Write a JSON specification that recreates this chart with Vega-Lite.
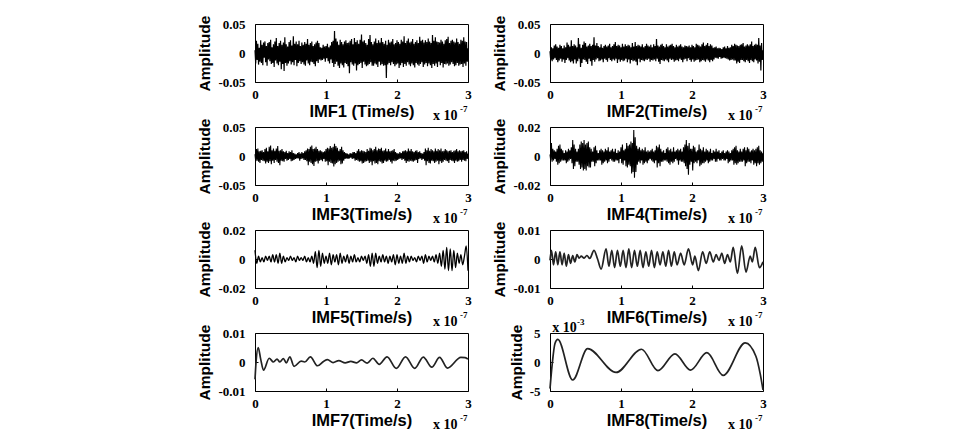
{
"$schema":"https://vega.github.io/schema/vega-lite/v6.json",
"background":"white",
"padding":{"left":197,"top":14,"right":5,"bottom":0},
"bounds":"flush",
"columns":2,
"spacing":{"row":45,"column":82},
"datasets":{
"imf1":[
{"t":0,"a":0.005},{"t":0.01,"a":-0.018},{"t":0.02,"a":0.021},{"t":0.03,"a":-0.012},{"t":0.04,"a":0.016},{"t":0.05,"a":-0.02},{"t":0.06,"a":0.009},{"t":0.07,"a":-0.015},{"t":0.08,"a":0.022},{"t":0.09,"a":-0.017},
{"t":0.1,"a":0.014},{"t":0.11,"a":-0.021},{"t":0.12,"a":0.018},{"t":0.13,"a":-0.008},{"t":0.14,"a":0.02},{"t":0.15,"a":-0.016},{"t":0.16,"a":0.012},{"t":0.17,"a":-0.022},{"t":0.18,"a":0.017},{"t":0.19,"a":-0.011},
{"t":0.2,"a":0.019},{"t":0.21,"a":-0.014},{"t":0.22,"a":0.023},{"t":0.23,"a":-0.019},{"t":0.24,"a":0.01},{"t":0.25,"a":-0.017},{"t":0.26,"a":0.015},{"t":0.27,"a":-0.024},{"t":0.28,"a":0.02},{"t":0.29,"a":-0.013},
{"t":0.3,"a":0.026},{"t":0.31,"a":-0.018},{"t":0.32,"a":0.012},{"t":0.33,"a":-0.021},{"t":0.34,"a":0.017},{"t":0.35,"a":-0.015},{"t":0.36,"a":0.021},{"t":0.37,"a":-0.028},{"t":0.38,"a":0.014},{"t":0.39,"a":-0.019},
{"t":0.4,"a":0.018},{"t":0.41,"a":-0.031},{"t":0.42,"a":0.027},{"t":0.43,"a":-0.017},{"t":0.44,"a":0.015},{"t":0.45,"a":-0.022},{"t":0.46,"a":0.011},{"t":0.47,"a":-0.018},{"t":0.48,"a":0.019},{"t":0.49,"a":-0.014},
{"t":0.5,"a":0.022},{"t":0.51,"a":-0.02},{"t":0.52,"a":0.013},{"t":0.53,"a":-0.016},{"t":0.54,"a":0.029},{"t":0.55,"a":-0.021},{"t":0.56,"a":0.016},{"t":0.57,"a":-0.012},{"t":0.58,"a":0.02},{"t":0.59,"a":-0.023},
{"t":0.6,"a":0.015},{"t":0.61,"a":-0.017},{"t":0.62,"a":0.021},{"t":0.63,"a":-0.014},{"t":0.64,"a":0.012},{"t":0.65,"a":-0.019},{"t":0.66,"a":0.018},{"t":0.67,"a":-0.016},{"t":0.68,"a":0.014},{"t":0.69,"a":-0.02},
{"t":0.7,"a":0.019},{"t":0.71,"a":-0.022},{"t":0.72,"a":0.016},{"t":0.73,"a":-0.013},{"t":0.74,"a":0.024},{"t":0.75,"a":-0.018},{"t":0.76,"a":0.014},{"t":0.77,"a":-0.021},{"t":0.78,"a":0.017},{"t":0.79,"a":-0.015},
{"t":0.8,"a":0.02},{"t":0.81,"a":-0.016},{"t":0.82,"a":0.012},{"t":0.83,"a":-0.019},{"t":0.84,"a":0.015},{"t":0.85,"a":-0.023},{"t":0.86,"a":0.018},{"t":0.87,"a":-0.014},{"t":0.88,"a":0.021},{"t":0.89,"a":-0.017},
{"t":0.9,"a":0.017},{"t":0.91,"a":-0.011},{"t":0.92,"a":0.01},{"t":0.93,"a":-0.013},{"t":0.94,"a":0.009},{"t":0.95,"a":-0.012},{"t":0.96,"a":0.014},{"t":0.97,"a":-0.01},{"t":0.98,"a":0.011},{"t":0.99,"a":-0.015},
{"t":1,"a":0.012},{"t":1.01,"a":-0.009},{"t":1.02,"a":0.016},{"t":1.03,"a":-0.014},{"t":1.04,"a":0.01},{"t":1.05,"a":-0.018},{"t":1.06,"a":0.013},{"t":1.07,"a":-0.011},{"t":1.08,"a":0.019},{"t":1.09,"a":-0.017},
{"t":1.1,"a":0.021},{"t":1.11,"a":-0.024},{"t":1.12,"a":0.038},{"t":1.13,"a":-0.019},{"t":1.14,"a":0.025},{"t":1.15,"a":-0.015},{"t":1.16,"a":0.02},{"t":1.17,"a":-0.022},{"t":1.18,"a":0.014},{"t":1.19,"a":-0.026},
{"t":1.2,"a":0.023},{"t":1.21,"a":-0.018},{"t":1.22,"a":0.019},{"t":1.23,"a":-0.021},{"t":1.24,"a":0.015},{"t":1.25,"a":-0.025},{"t":1.26,"a":0.02},{"t":1.27,"a":-0.017},{"t":1.28,"a":0.022},{"t":1.29,"a":-0.019},
{"t":1.3,"a":0.017},{"t":1.31,"a":-0.023},{"t":1.32,"a":0.018},{"t":1.33,"a":-0.035},{"t":1.34,"a":0.021},{"t":1.35,"a":-0.016},{"t":1.36,"a":0.024},{"t":1.37,"a":-0.02},{"t":1.38,"a":0.015},{"t":1.39,"a":-0.022},
{"t":1.4,"a":0.026},{"t":1.41,"a":-0.018},{"t":1.42,"a":0.019},{"t":1.43,"a":-0.03},{"t":1.44,"a":0.022},{"t":1.45,"a":-0.021},{"t":1.46,"a":0.016},{"t":1.47,"a":-0.019},{"t":1.48,"a":0.023},{"t":1.49,"a":-0.017},
{"t":1.5,"a":0.032},{"t":1.51,"a":-0.026},{"t":1.52,"a":0.02},{"t":1.53,"a":-0.015},{"t":1.54,"a":0.022},{"t":1.55,"a":-0.02},{"t":1.56,"a":0.017},{"t":1.57,"a":-0.023},{"t":1.58,"a":0.014},{"t":1.59,"a":-0.021},
{"t":1.6,"a":0.024},{"t":1.61,"a":-0.019},{"t":1.62,"a":0.031},{"t":1.63,"a":-0.016},{"t":1.64,"a":0.019},{"t":1.65,"a":-0.022},{"t":1.66,"a":0.015},{"t":1.67,"a":-0.022},{"t":1.68,"a":0.02},{"t":1.69,"a":-0.018},
{"t":1.7,"a":0.025},{"t":1.71,"a":-0.02},{"t":1.72,"a":0.017},{"t":1.73,"a":-0.024},{"t":1.74,"a":0.022},{"t":1.75,"a":-0.015},{"t":1.76,"a":0.018},{"t":1.77,"a":-0.021},{"t":1.78,"a":0.026},{"t":1.79,"a":-0.019},
{"t":1.8,"a":0.019},{"t":1.81,"a":-0.022},{"t":1.82,"a":0.016},{"t":1.83,"a":-0.021},{"t":1.84,"a":0.021},{"t":1.85,"a":-0.043},{"t":1.86,"a":0.014},{"t":1.87,"a":-0.02},{"t":1.88,"a":0.023},{"t":1.89,"a":-0.017},
{"t":1.9,"a":0.018},{"t":1.91,"a":-0.021},{"t":1.92,"a":0.02},{"t":1.93,"a":-0.016},{"t":1.94,"a":0.024},{"t":1.95,"a":-0.019},{"t":1.96,"a":0.015},{"t":1.97,"a":-0.023},{"t":1.98,"a":0.017},{"t":1.99,"a":-0.02},
{"t":2,"a":0.022},{"t":2.01,"a":-0.018},{"t":2.02,"a":0.019},{"t":2.03,"a":-0.026},{"t":2.04,"a":0.016},{"t":2.05,"a":-0.021},{"t":2.06,"a":0.023},{"t":2.07,"a":-0.017},{"t":2.08,"a":0.02},{"t":2.09,"a":-0.024},
{"t":2.1,"a":0.029},{"t":2.11,"a":-0.019},{"t":2.12,"a":0.017},{"t":2.13,"a":-0.022},{"t":2.14,"a":0.021},{"t":2.15,"a":-0.016},{"t":2.16,"a":0.025},{"t":2.17,"a":-0.02},{"t":2.18,"a":0.018},{"t":2.19,"a":-0.023},
{"t":2.2,"a":0.02},{"t":2.21,"a":-0.018},{"t":2.22,"a":0.024},{"t":2.23,"a":-0.021},{"t":2.24,"a":0.016},{"t":2.25,"a":-0.025},{"t":2.26,"a":0.019},{"t":2.27,"a":-0.017},{"t":2.28,"a":0.022},{"t":2.29,"a":-0.02},
{"t":2.3,"a":0.017},{"t":2.31,"a":-0.022},{"t":2.32,"a":0.028},{"t":2.33,"a":-0.019},{"t":2.34,"a":0.021},{"t":2.35,"a":-0.016},{"t":2.36,"a":0.023},{"t":2.37,"a":-0.024},{"t":2.38,"a":0.018},{"t":2.39,"a":-0.02},
{"t":2.4,"a":0.022},{"t":2.41,"a":-0.017},{"t":2.42,"a":0.019},{"t":2.43,"a":-0.023},{"t":2.44,"a":0.025},{"t":2.45,"a":-0.018},{"t":2.46,"a":0.02},{"t":2.47,"a":-0.021},{"t":2.48,"a":0.017},{"t":2.49,"a":-0.026},
{"t":2.5,"a":0.031},{"t":2.51,"a":-0.019},{"t":2.52,"a":0.021},{"t":2.53,"a":-0.022},{"t":2.54,"a":0.027},{"t":2.55,"a":-0.018},{"t":2.56,"a":0.02},{"t":2.57,"a":-0.024},{"t":2.58,"a":0.019},{"t":2.59,"a":-0.015},
{"t":2.6,"a":0.018},{"t":2.61,"a":-0.021},{"t":2.62,"a":0.023},{"t":2.63,"a":-0.017},{"t":2.64,"a":0.02},{"t":2.65,"a":-0.025},{"t":2.66,"a":0.016},{"t":2.67,"a":-0.019},{"t":2.68,"a":0.022},{"t":2.69,"a":-0.02},
{"t":2.7,"a":0.024},{"t":2.71,"a":-0.018},{"t":2.72,"a":0.028},{"t":2.73,"a":-0.022},{"t":2.74,"a":0.017},{"t":2.75,"a":-0.02},{"t":2.76,"a":0.021},{"t":2.77,"a":-0.016},{"t":2.78,"a":0.023},{"t":2.79,"a":-0.019},
{"t":2.8,"a":0.02},{"t":2.81,"a":-0.023},{"t":2.82,"a":0.018},{"t":2.83,"a":-0.021},{"t":2.84,"a":0.025},{"t":2.85,"a":-0.017},{"t":2.86,"a":0.019},{"t":2.87,"a":-0.022},{"t":2.88,"a":0.016},{"t":2.89,"a":-0.02},
{"t":2.9,"a":0.023},{"t":2.91,"a":-0.019},{"t":2.92,"a":0.021},{"t":2.93,"a":-0.024},{"t":2.94,"a":0.027},{"t":2.95,"a":-0.018},{"t":2.96,"a":0.02},{"t":2.97,"a":-0.022},{"t":2.98,"a":0.019},{"t":2.99,"a":-0.015},
{"t":3,"a":0.008}],
"imf2":[
{"t":0,"a":0.003},{"t":0.01,"a":-0.012},{"t":0.02,"a":0.01},{"t":0.03,"a":-0.014},{"t":0.04,"a":0.008},{"t":0.05,"a":-0.011},{"t":0.06,"a":0.013},{"t":0.07,"a":-0.009},{"t":0.08,"a":0.015},{"t":0.09,"a":-0.012},
{"t":0.1,"a":0.011},{"t":0.11,"a":-0.016},{"t":0.12,"a":0.009},{"t":0.13,"a":-0.013},{"t":0.14,"a":0.014},{"t":0.15,"a":-0.01},{"t":0.16,"a":0.012},{"t":0.17,"a":-0.015},{"t":0.18,"a":0.008},{"t":0.19,"a":-0.011},
{"t":0.2,"a":0.013},{"t":0.21,"a":-0.017},{"t":0.22,"a":0.01},{"t":0.23,"a":-0.012},{"t":0.24,"a":0.018},{"t":0.25,"a":-0.009},{"t":0.26,"a":0.014},{"t":0.27,"a":-0.013},{"t":0.28,"a":0.011},{"t":0.29,"a":-0.016},
{"t":0.3,"a":0.022},{"t":0.31,"a":-0.014},{"t":0.32,"a":0.012},{"t":0.33,"a":-0.018},{"t":0.34,"a":0.015},{"t":0.35,"a":-0.011},{"t":0.36,"a":0.013},{"t":0.37,"a":-0.018},{"t":0.38,"a":0.01},{"t":0.39,"a":-0.014},
{"t":0.4,"a":0.026},{"t":0.41,"a":-0.01},{"t":0.42,"a":0.015},{"t":0.43,"a":-0.024},{"t":0.44,"a":0.009},{"t":0.45,"a":-0.017},{"t":0.46,"a":0.014},{"t":0.47,"a":-0.011},{"t":0.48,"a":0.02},{"t":0.49,"a":-0.012},
{"t":0.5,"a":0.017},{"t":0.51,"a":-0.015},{"t":0.52,"a":0.011},{"t":0.53,"a":-0.019},{"t":0.54,"a":0.013},{"t":0.55,"a":-0.01},{"t":0.56,"a":0.016},{"t":0.57,"a":-0.014},{"t":0.58,"a":0.012},{"t":0.59,"a":-0.022},
{"t":0.6,"a":0.014},{"t":0.61,"a":-0.012},{"t":0.62,"a":0.027},{"t":0.63,"a":-0.015},{"t":0.64,"a":0.013},{"t":0.65,"a":-0.011},{"t":0.66,"a":0.017},{"t":0.67,"a":-0.009},{"t":0.68,"a":0.012},{"t":0.69,"a":-0.014},
{"t":0.7,"a":0.01},{"t":0.71,"a":-0.013},{"t":0.72,"a":0.015},{"t":0.73,"a":-0.011},{"t":0.74,"a":0.009},{"t":0.75,"a":-0.016},{"t":0.76,"a":0.012},{"t":0.77,"a":-0.01},{"t":0.78,"a":0.014},{"t":0.79,"a":-0.012},
{"t":0.8,"a":0.011},{"t":0.81,"a":-0.015},{"t":0.82,"a":0.013},{"t":0.83,"a":-0.009},{"t":0.84,"a":0.016},{"t":0.85,"a":-0.012},{"t":0.86,"a":0.01},{"t":0.87,"a":-0.014},{"t":0.88,"a":0.012},{"t":0.89,"a":-0.011},
{"t":0.9,"a":0.015},{"t":0.91,"a":-0.013},{"t":0.92,"a":0.019},{"t":0.93,"a":-0.01},{"t":0.94,"a":0.012},{"t":0.95,"a":-0.017},{"t":0.96,"a":0.014},{"t":0.97,"a":-0.011},{"t":0.98,"a":0.013},{"t":0.99,"a":-0.015},
{"t":1,"a":0.01},{"t":1.01,"a":-0.012},{"t":1.02,"a":0.016},{"t":1.03,"a":-0.014},{"t":1.04,"a":0.011},{"t":1.05,"a":-0.013},{"t":1.06,"a":0.015},{"t":1.07,"a":-0.01},{"t":1.08,"a":0.012},{"t":1.09,"a":-0.016},
{"t":1.1,"a":0.014},{"t":1.11,"a":-0.011},{"t":1.12,"a":0.013},{"t":1.13,"a":-0.018},{"t":1.14,"a":0.01},{"t":1.15,"a":-0.012},{"t":1.16,"a":0.017},{"t":1.17,"a":-0.014},{"t":1.18,"a":0.011},{"t":1.19,"a":-0.013},
{"t":1.2,"a":0.019},{"t":1.21,"a":-0.015},{"t":1.22,"a":0.012},{"t":1.23,"a":-0.021},{"t":1.24,"a":0.014},{"t":1.25,"a":-0.01},{"t":1.26,"a":0.013},{"t":1.27,"a":-0.016},{"t":1.28,"a":0.011},{"t":1.29,"a":-0.012},
{"t":1.3,"a":0.015},{"t":1.31,"a":-0.013},{"t":1.32,"a":0.01},{"t":1.33,"a":-0.014},{"t":1.34,"a":0.012},{"t":1.35,"a":-0.011},{"t":1.36,"a":0.016},{"t":1.37,"a":-0.012},{"t":1.38,"a":0.013},{"t":1.39,"a":-0.01},
{"t":1.4,"a":0.011},{"t":1.41,"a":-0.015},{"t":1.42,"a":0.014},{"t":1.43,"a":-0.012},{"t":1.44,"a":0.01},{"t":1.45,"a":-0.013},{"t":1.46,"a":0.015},{"t":1.47,"a":-0.011},{"t":1.48,"a":0.012},{"t":1.49,"a":-0.014},
{"t":1.5,"a":0.024},{"t":1.51,"a":-0.01},{"t":1.52,"a":0.013},{"t":1.53,"a":-0.015},{"t":1.54,"a":0.011},{"t":1.55,"a":-0.019},{"t":1.56,"a":0.014},{"t":1.57,"a":-0.012},{"t":1.58,"a":0.016},{"t":1.59,"a":-0.013},
{"t":1.6,"a":0.012},{"t":1.61,"a":-0.014},{"t":1.62,"a":0.01},{"t":1.63,"a":-0.011},{"t":1.64,"a":0.015},{"t":1.65,"a":-0.013},{"t":1.66,"a":0.011},{"t":1.67,"a":-0.016},{"t":1.68,"a":0.013},{"t":1.69,"a":-0.01},
{"t":1.7,"a":0.014},{"t":1.71,"a":-0.012},{"t":1.72,"a":0.016},{"t":1.73,"a":-0.011},{"t":1.74,"a":0.012},{"t":1.75,"a":-0.015},{"t":1.76,"a":0.01},{"t":1.77,"a":-0.013},{"t":1.78,"a":0.014},{"t":1.79,"a":-0.012},
{"t":1.8,"a":0.011},{"t":1.81,"a":-0.014},{"t":1.82,"a":0.013},{"t":1.83,"a":-0.01},{"t":1.84,"a":0.015},{"t":1.85,"a":-0.012},{"t":1.86,"a":0.011},{"t":1.87,"a":-0.016},{"t":1.88,"a":0.01},{"t":1.89,"a":-0.011},
{"t":1.9,"a":0.013},{"t":1.91,"a":-0.01},{"t":1.92,"a":0.012},{"t":1.93,"a":-0.014},{"t":1.94,"a":0.011},{"t":1.95,"a":-0.009},{"t":1.96,"a":0.013},{"t":1.97,"a":-0.012},{"t":1.98,"a":0.01},{"t":1.99,"a":-0.015},
{"t":2,"a":0.014},{"t":2.01,"a":-0.011},{"t":2.02,"a":0.012},{"t":2.03,"a":-0.015},{"t":2.04,"a":0.01},{"t":2.05,"a":-0.013},{"t":2.06,"a":0.016},{"t":2.07,"a":-0.012},{"t":2.08,"a":0.014},{"t":2.09,"a":-0.011},
{"t":2.1,"a":0.013},{"t":2.11,"a":-0.016},{"t":2.12,"a":0.011},{"t":2.13,"a":-0.014},{"t":2.14,"a":0.015},{"t":2.15,"a":-0.012},{"t":2.16,"a":0.018},{"t":2.17,"a":-0.013},{"t":2.18,"a":0.012},{"t":2.19,"a":-0.015},
{"t":2.2,"a":0.014},{"t":2.21,"a":-0.011},{"t":2.22,"a":0.017},{"t":2.23,"a":-0.013},{"t":2.24,"a":0.012},{"t":2.25,"a":-0.016},{"t":2.26,"a":0.015},{"t":2.27,"a":-0.012},{"t":2.28,"a":0.013},{"t":2.29,"a":-0.014},
{"t":2.3,"a":0.009},{"t":2.31,"a":-0.011},{"t":2.32,"a":0.01},{"t":2.33,"a":-0.008},{"t":2.34,"a":0.011},{"t":2.35,"a":-0.009},{"t":2.36,"a":0.008},{"t":2.37,"a":-0.01},{"t":2.38,"a":0.009},{"t":2.39,"a":-0.007},
{"t":2.4,"a":0.008},{"t":2.41,"a":-0.01},{"t":2.42,"a":0.007},{"t":2.43,"a":-0.009},{"t":2.44,"a":0.01},{"t":2.45,"a":-0.008},{"t":2.46,"a":0.011},{"t":2.47,"a":-0.009},{"t":2.48,"a":0.008},{"t":2.49,"a":-0.01},
{"t":2.5,"a":0.012},{"t":2.51,"a":-0.011},{"t":2.52,"a":0.009},{"t":2.53,"a":-0.013},{"t":2.54,"a":0.01},{"t":2.55,"a":-0.012},{"t":2.56,"a":0.014},{"t":2.57,"a":-0.011},{"t":2.58,"a":0.012},{"t":2.59,"a":-0.013},
{"t":2.6,"a":0.016},{"t":2.61,"a":-0.013},{"t":2.62,"a":0.014},{"t":2.63,"a":-0.018},{"t":2.64,"a":0.013},{"t":2.65,"a":-0.015},{"t":2.66,"a":0.012},{"t":2.67,"a":-0.017},{"t":2.68,"a":0.014},{"t":2.69,"a":-0.012},
{"t":2.7,"a":0.015},{"t":2.71,"a":-0.012},{"t":2.72,"a":0.017},{"t":2.73,"a":-0.014},{"t":2.74,"a":0.011},{"t":2.75,"a":-0.016},{"t":2.76,"a":0.013},{"t":2.77,"a":-0.012},{"t":2.78,"a":0.015},{"t":2.79,"a":-0.014},
{"t":2.8,"a":0.013},{"t":2.81,"a":-0.017},{"t":2.82,"a":0.015},{"t":2.83,"a":-0.012},{"t":2.84,"a":0.02},{"t":2.85,"a":-0.014},{"t":2.86,"a":0.012},{"t":2.87,"a":-0.016},{"t":2.88,"a":0.014},{"t":2.89,"a":-0.011},
{"t":2.9,"a":0.016},{"t":2.91,"a":-0.013},{"t":2.92,"a":0.014},{"t":2.93,"a":-0.018},{"t":2.94,"a":0.026},{"t":2.95,"a":-0.015},{"t":2.96,"a":0.013},{"t":2.97,"a":-0.03},{"t":2.98,"a":0.017},{"t":2.99,"a":-0.012},
{"t":3,"a":0.005}],
"imf3":[
{"t":0,"a":0.003},{"t":0.01,"a":-0.009},{"t":0.02,"a":0.012},{"t":0.03,"a":-0.008},{"t":0.04,"a":0.013},{"t":0.05,"a":-0.01},{"t":0.06,"a":0.008},{"t":0.07,"a":-0.012},{"t":0.08,"a":0.009},{"t":0.09,"a":-0.007},
{"t":0.1,"a":0.01},{"t":0.11,"a":-0.008},{"t":0.12,"a":0.007},{"t":0.13,"a":-0.009},{"t":0.14,"a":0.012},{"t":0.15,"a":-0.013},{"t":0.16,"a":0.014},{"t":0.17,"a":-0.01},{"t":0.18,"a":0.008},{"t":0.19,"a":-0.012},
{"t":0.2,"a":0.016},{"t":0.21,"a":-0.009},{"t":0.22,"a":0.018},{"t":0.23,"a":-0.014},{"t":0.24,"a":0.01},{"t":0.25,"a":-0.008},{"t":0.26,"a":0.013},{"t":0.27,"a":-0.012},{"t":0.28,"a":0.009},{"t":0.29,"a":-0.007},
{"t":0.3,"a":0.013},{"t":0.31,"a":-0.01},{"t":0.32,"a":0.017},{"t":0.33,"a":-0.012},{"t":0.34,"a":0.009},{"t":0.35,"a":-0.016},{"t":0.36,"a":0.01},{"t":0.37,"a":-0.008},{"t":0.38,"a":0.012},{"t":0.39,"a":-0.009},
{"t":0.4,"a":0.008},{"t":0.41,"a":-0.01},{"t":0.42,"a":0.007},{"t":0.43,"a":-0.005},{"t":0.44,"a":0.009},{"t":0.45,"a":-0.008},{"t":0.46,"a":0.005},{"t":0.47,"a":-0.007},{"t":0.48,"a":0.008},{"t":0.49,"a":-0.005},
{"t":0.5,"a":0.007},{"t":0.51,"a":-0.009},{"t":0.52,"a":0.01},{"t":0.53,"a":-0.008},{"t":0.54,"a":0.005},{"t":0.55,"a":-0.007},{"t":0.56,"a":0.004},{"t":0.57,"a":-0.005},{"t":0.58,"a":0.003},{"t":0.59,"a":-0.004},
{"t":0.6,"a":0.005},{"t":0.61,"a":-0.004},{"t":0.62,"a":0.007},{"t":0.63,"a":-0.008},{"t":0.64,"a":0.004},{"t":0.65,"a":-0.005},{"t":0.66,"a":0.007},{"t":0.67,"a":-0.004},{"t":0.68,"a":0.005},{"t":0.69,"a":-0.007},
{"t":0.7,"a":0.008},{"t":0.71,"a":-0.007},{"t":0.72,"a":0.01},{"t":0.73,"a":-0.009},{"t":0.74,"a":0.013},{"t":0.75,"a":-0.016},{"t":0.76,"a":0.012},{"t":0.77,"a":-0.01},{"t":0.78,"a":0.016},{"t":0.79,"a":-0.012},
{"t":0.8,"a":0.018},{"t":0.81,"a":-0.014},{"t":0.82,"a":0.012},{"t":0.83,"a":-0.017},{"t":0.84,"a":0.013},{"t":0.85,"a":-0.01},{"t":0.86,"a":0.016},{"t":0.87,"a":-0.009},{"t":0.88,"a":0.012},{"t":0.89,"a":-0.013},
{"t":0.9,"a":0.009},{"t":0.91,"a":-0.008},{"t":0.92,"a":0.01},{"t":0.93,"a":-0.007},{"t":0.94,"a":0.008},{"t":0.95,"a":-0.009},{"t":0.96,"a":0.007},{"t":0.97,"a":-0.005},{"t":0.98,"a":0.008},{"t":0.99,"a":-0.01},
{"t":1,"a":0.012},{"t":1.01,"a":-0.009},{"t":1.02,"a":0.014},{"t":1.03,"a":-0.016},{"t":1.04,"a":0.013},{"t":1.05,"a":-0.01},{"t":1.06,"a":0.017},{"t":1.07,"a":-0.012},{"t":1.08,"a":0.014},{"t":1.09,"a":-0.013},
{"t":1.1,"a":0.016},{"t":1.11,"a":-0.018},{"t":1.12,"a":0.021},{"t":1.13,"a":-0.014},{"t":1.14,"a":0.017},{"t":1.15,"a":-0.012},{"t":1.16,"a":0.014},{"t":1.17,"a":-0.01},{"t":1.18,"a":0.009},{"t":1.19,"a":-0.008},
{"t":1.2,"a":0.012},{"t":1.21,"a":-0.014},{"t":1.22,"a":0.016},{"t":1.23,"a":-0.013},{"t":1.24,"a":0.01},{"t":1.25,"a":-0.008},{"t":1.26,"a":0.007},{"t":1.27,"a":-0.005},{"t":1.28,"a":0.005},{"t":1.29,"a":-0.004},
{"t":1.3,"a":0.004},{"t":1.31,"a":-0.005},{"t":1.32,"a":0.003},{"t":1.33,"a":-0.004},{"t":1.34,"a":0.005},{"t":1.35,"a":-0.003},{"t":1.36,"a":0.004},{"t":1.37,"a":-0.005},{"t":1.38,"a":0.007},{"t":1.39,"a":-0.004},
{"t":1.4,"a":0.007},{"t":1.41,"a":-0.008},{"t":1.42,"a":0.005},{"t":1.43,"a":-0.007},{"t":1.44,"a":0.009},{"t":1.45,"a":-0.008},{"t":1.46,"a":0.012},{"t":1.47,"a":-0.01},{"t":1.48,"a":0.008},{"t":1.49,"a":-0.009},
{"t":1.5,"a":0.01},{"t":1.51,"a":-0.013},{"t":1.52,"a":0.009},{"t":1.53,"a":-0.012},{"t":1.54,"a":0.008},{"t":1.55,"a":-0.01},{"t":1.56,"a":0.007},{"t":1.57,"a":-0.009},{"t":1.58,"a":0.012},{"t":1.59,"a":-0.008},
{"t":1.6,"a":0.009},{"t":1.61,"a":-0.012},{"t":1.62,"a":0.014},{"t":1.63,"a":-0.01},{"t":1.64,"a":0.013},{"t":1.65,"a":-0.016},{"t":1.66,"a":0.01},{"t":1.67,"a":-0.009},{"t":1.68,"a":0.012},{"t":1.69,"a":-0.013},
{"t":1.7,"a":0.016},{"t":1.71,"a":-0.012},{"t":1.72,"a":0.01},{"t":1.73,"a":-0.014},{"t":1.74,"a":0.013},{"t":1.75,"a":-0.009},{"t":1.76,"a":0.012},{"t":1.77,"a":-0.01},{"t":1.78,"a":0.014},{"t":1.79,"a":-0.013},
{"t":1.8,"a":0.009},{"t":1.81,"a":-0.012},{"t":1.82,"a":0.01},{"t":1.83,"a":-0.008},{"t":1.84,"a":0.013},{"t":1.85,"a":-0.01},{"t":1.86,"a":0.008},{"t":1.87,"a":-0.009},{"t":1.88,"a":0.012},{"t":1.89,"a":-0.007},
{"t":1.9,"a":0.008},{"t":1.91,"a":-0.01},{"t":1.92,"a":0.009},{"t":1.93,"a":-0.013},{"t":1.94,"a":0.01},{"t":1.95,"a":-0.008},{"t":1.96,"a":0.012},{"t":1.97,"a":-0.009},{"t":1.98,"a":0.007},{"t":1.99,"a":-0.008},
{"t":2,"a":0.005},{"t":2.01,"a":-0.007},{"t":2.02,"a":0.004},{"t":2.03,"a":-0.005},{"t":2.04,"a":0.007},{"t":2.05,"a":-0.004},{"t":2.06,"a":0.005},{"t":2.07,"a":-0.007},{"t":2.08,"a":0.008},{"t":2.09,"a":-0.005},
{"t":2.1,"a":0.009},{"t":2.11,"a":-0.008},{"t":2.12,"a":0.01},{"t":2.13,"a":-0.012},{"t":2.14,"a":0.008},{"t":2.15,"a":-0.009},{"t":2.16,"a":0.013},{"t":2.17,"a":-0.01},{"t":2.18,"a":0.009},{"t":2.19,"a":-0.008},
{"t":2.2,"a":0.012},{"t":2.21,"a":-0.009},{"t":2.22,"a":0.008},{"t":2.23,"a":-0.01},{"t":2.24,"a":0.007},{"t":2.25,"a":-0.008},{"t":2.26,"a":0.009},{"t":2.27,"a":-0.007},{"t":2.28,"a":0.01},{"t":2.29,"a":-0.012},
{"t":2.3,"a":0.007},{"t":2.31,"a":-0.005},{"t":2.32,"a":0.008},{"t":2.33,"a":-0.004},{"t":2.34,"a":0.005},{"t":2.35,"a":-0.007},{"t":2.36,"a":0.004},{"t":2.37,"a":-0.005},{"t":2.38,"a":0.007},{"t":2.39,"a":-0.008},
{"t":2.4,"a":0.013},{"t":2.41,"a":-0.016},{"t":2.42,"a":0.01},{"t":2.43,"a":-0.009},{"t":2.44,"a":0.014},{"t":2.45,"a":-0.012},{"t":2.46,"a":0.009},{"t":2.47,"a":-0.013},{"t":2.48,"a":0.012},{"t":2.49,"a":-0.008},
{"t":2.5,"a":0.01},{"t":2.51,"a":-0.009},{"t":2.52,"a":0.008},{"t":2.53,"a":-0.012},{"t":2.54,"a":0.013},{"t":2.55,"a":-0.01},{"t":2.56,"a":0.009},{"t":2.57,"a":-0.008},{"t":2.58,"a":0.012},{"t":2.59,"a":-0.014},
{"t":2.6,"a":0.01},{"t":2.61,"a":-0.009},{"t":2.62,"a":0.013},{"t":2.63,"a":-0.012},{"t":2.64,"a":0.008},{"t":2.65,"a":-0.01},{"t":2.66,"a":0.009},{"t":2.67,"a":-0.007},{"t":2.68,"a":0.012},{"t":2.69,"a":-0.008},
{"t":2.7,"a":0.01},{"t":2.71,"a":-0.009},{"t":2.72,"a":0.008},{"t":2.73,"a":-0.012},{"t":2.74,"a":0.009},{"t":2.75,"a":-0.007},{"t":2.76,"a":0.01},{"t":2.77,"a":-0.008},{"t":2.78,"a":0.007},{"t":2.79,"a":-0.009},
{"t":2.8,"a":0.009},{"t":2.81,"a":-0.012},{"t":2.82,"a":0.01},{"t":2.83,"a":-0.008},{"t":2.84,"a":0.012},{"t":2.85,"a":-0.01},{"t":2.86,"a":0.008},{"t":2.87,"a":-0.009},{"t":2.88,"a":0.01},{"t":2.89,"a":-0.007},
{"t":2.9,"a":0.008},{"t":2.91,"a":-0.01},{"t":2.92,"a":0.009},{"t":2.93,"a":-0.007},{"t":2.94,"a":0.01},{"t":2.95,"a":-0.008},{"t":2.96,"a":0.007},{"t":2.97,"a":-0.009},{"t":2.98,"a":0.008},{"t":2.99,"a":-0.005},
{"t":3,"a":0.004}],
"imf4":[
{"t":0,"a":0.001},{"t":0.01,"a":-0.003},{"t":0.02,"a":0.009},{"t":0.03,"a":-0.004},{"t":0.04,"a":0.005},{"t":0.05,"a":-0.003},{"t":0.06,"a":0.004},{"t":0.07,"a":-0.002},{"t":0.08,"a":0.003},{"t":0.09,"a":-0.004},
{"t":0.1,"a":0.005},{"t":0.11,"a":-0.006},{"t":0.12,"a":0.007},{"t":0.13,"a":-0.005},{"t":0.14,"a":0.008},{"t":0.15,"a":-0.004},{"t":0.16,"a":0.005},{"t":0.17,"a":-0.003},{"t":0.18,"a":0.004},{"t":0.19,"a":-0.003},
{"t":0.2,"a":0.002},{"t":0.21,"a":-0.003},{"t":0.22,"a":0.004},{"t":0.23,"a":-0.005},{"t":0.24,"a":0.003},{"t":0.25,"a":-0.004},{"t":0.26,"a":0.005},{"t":0.27,"a":-0.003},{"t":0.28,"a":0.004},{"t":0.29,"a":-0.002},
{"t":0.3,"a":0.006},{"t":0.31,"a":-0.005},{"t":0.32,"a":0.011},{"t":0.33,"a":-0.009},{"t":0.34,"a":0.008},{"t":0.35,"a":-0.007},{"t":0.36,"a":0.005},{"t":0.37,"a":-0.004},{"t":0.38,"a":0.003},{"t":0.39,"a":-0.004},
{"t":0.4,"a":0.005},{"t":0.41,"a":-0.006},{"t":0.42,"a":0.008},{"t":0.43,"a":-0.009},{"t":0.44,"a":0.01},{"t":0.45,"a":-0.008},{"t":0.46,"a":0.009},{"t":0.47,"a":-0.01},{"t":0.48,"a":0.011},{"t":0.49,"a":-0.009},
{"t":0.5,"a":0.008},{"t":0.51,"a":-0.01},{"t":0.52,"a":0.009},{"t":0.53,"a":-0.007},{"t":0.54,"a":0.01},{"t":0.55,"a":-0.008},{"t":0.56,"a":0.006},{"t":0.57,"a":-0.008},{"t":0.58,"a":0.005},{"t":0.59,"a":-0.004},
{"t":0.6,"a":0.003},{"t":0.61,"a":-0.004},{"t":0.62,"a":0.006},{"t":0.63,"a":-0.007},{"t":0.64,"a":0.007},{"t":0.65,"a":-0.005},{"t":0.66,"a":0.004},{"t":0.67,"a":-0.003},{"t":0.68,"a":0.002},{"t":0.69,"a":-0.003},
{"t":0.7,"a":0.004},{"t":0.71,"a":-0.003},{"t":0.72,"a":0.005},{"t":0.73,"a":-0.006},{"t":0.74,"a":0.004},{"t":0.75,"a":-0.005},{"t":0.76,"a":0.003},{"t":0.77,"a":-0.004},{"t":0.78,"a":0.005},{"t":0.79,"a":-0.003},
{"t":0.8,"a":0.004},{"t":0.81,"a":-0.005},{"t":0.82,"a":0.006},{"t":0.83,"a":-0.004},{"t":0.84,"a":0.003},{"t":0.85,"a":-0.002},{"t":0.86,"a":0.004},{"t":0.87,"a":-0.003},{"t":0.88,"a":0.005},{"t":0.89,"a":-0.004},
{"t":0.9,"a":0.003},{"t":0.91,"a":-0.004},{"t":0.92,"a":0.005},{"t":0.93,"a":-0.003},{"t":0.94,"a":0.002},{"t":0.95,"a":-0.003},{"t":0.96,"a":0.004},{"t":0.97,"a":-0.005},{"t":0.98,"a":0.003},{"t":0.99,"a":-0.002},
{"t":1,"a":0.006},{"t":1.01,"a":-0.005},{"t":1.02,"a":0.008},{"t":1.03,"a":-0.006},{"t":1.04,"a":0.004},{"t":1.05,"a":-0.003},{"t":1.06,"a":0.005},{"t":1.07,"a":-0.007},{"t":1.08,"a":0.009},{"t":1.09,"a":-0.008},
{"t":1.1,"a":0.007},{"t":1.11,"a":-0.006},{"t":1.12,"a":0.008},{"t":1.13,"a":-0.007},{"t":1.14,"a":0.01},{"t":1.15,"a":-0.012},{"t":1.16,"a":0.009},{"t":1.17,"a":-0.011},{"t":1.18,"a":0.018},{"t":1.19,"a":-0.015},
{"t":1.2,"a":0.013},{"t":1.21,"a":-0.011},{"t":1.22,"a":0.007},{"t":1.23,"a":-0.006},{"t":1.24,"a":0.005},{"t":1.25,"a":-0.004},{"t":1.26,"a":0.006},{"t":1.27,"a":-0.005},{"t":1.28,"a":0.004},{"t":1.29,"a":-0.003},
{"t":1.3,"a":0.005},{"t":1.31,"a":-0.006},{"t":1.32,"a":0.004},{"t":1.33,"a":-0.005},{"t":1.34,"a":0.006},{"t":1.35,"a":-0.004},{"t":1.36,"a":0.003},{"t":1.37,"a":-0.005},{"t":1.38,"a":0.004},{"t":1.39,"a":-0.003},
{"t":1.4,"a":0.003},{"t":1.41,"a":-0.002},{"t":1.42,"a":0.004},{"t":1.43,"a":-0.003},{"t":1.44,"a":0.005},{"t":1.45,"a":-0.004},{"t":1.46,"a":0.003},{"t":1.47,"a":-0.005},{"t":1.48,"a":0.004},{"t":1.49,"a":-0.003},
{"t":1.5,"a":0.007},{"t":1.51,"a":-0.008},{"t":1.52,"a":0.006},{"t":1.53,"a":-0.005},{"t":1.54,"a":0.008},{"t":1.55,"a":-0.007},{"t":1.56,"a":0.005},{"t":1.57,"a":-0.004},{"t":1.58,"a":0.003},{"t":1.59,"a":-0.004},
{"t":1.6,"a":0.004},{"t":1.61,"a":-0.003},{"t":1.62,"a":0.002},{"t":1.63,"a":-0.003},{"t":1.64,"a":0.005},{"t":1.65,"a":-0.004},{"t":1.66,"a":0.006},{"t":1.67,"a":-0.005},{"t":1.68,"a":0.004},{"t":1.69,"a":-0.006},
{"t":1.7,"a":0.005},{"t":1.71,"a":-0.004},{"t":1.72,"a":0.003},{"t":1.73,"a":-0.005},{"t":1.74,"a":0.006},{"t":1.75,"a":-0.004},{"t":1.76,"a":0.003},{"t":1.77,"a":-0.002},{"t":1.78,"a":0.004},{"t":1.79,"a":-0.003},
{"t":1.8,"a":0.005},{"t":1.81,"a":-0.006},{"t":1.82,"a":0.004},{"t":1.83,"a":-0.003},{"t":1.84,"a":0.005},{"t":1.85,"a":-0.004},{"t":1.86,"a":0.003},{"t":1.87,"a":-0.004},{"t":1.88,"a":0.006},{"t":1.89,"a":-0.005},
{"t":1.9,"a":0.008},{"t":1.91,"a":-0.007},{"t":1.92,"a":0.011},{"t":1.93,"a":-0.009},{"t":1.94,"a":0.007},{"t":1.95,"a":-0.013},{"t":1.96,"a":0.009},{"t":1.97,"a":-0.006},{"t":1.98,"a":0.005},{"t":1.99,"a":-0.004},
{"t":2,"a":0.005},{"t":2.01,"a":-0.01},{"t":2.02,"a":0.007},{"t":2.03,"a":-0.005},{"t":2.04,"a":0.006},{"t":2.05,"a":-0.004},{"t":2.06,"a":0.003},{"t":2.07,"a":-0.005},{"t":2.08,"a":0.004},{"t":2.09,"a":-0.003},
{"t":2.1,"a":0.008},{"t":2.11,"a":-0.007},{"t":2.12,"a":0.005},{"t":2.13,"a":-0.006},{"t":2.14,"a":0.004},{"t":2.15,"a":-0.005},{"t":2.16,"a":0.006},{"t":2.17,"a":-0.005},{"t":2.18,"a":0.003},{"t":2.19,"a":-0.004},
{"t":2.2,"a":0.005},{"t":2.21,"a":-0.003},{"t":2.22,"a":0.004},{"t":2.23,"a":-0.005},{"t":2.24,"a":0.003},{"t":2.25,"a":-0.004},{"t":2.26,"a":0.005},{"t":2.27,"a":-0.003},{"t":2.28,"a":0.002},{"t":2.29,"a":-0.003},
{"t":2.3,"a":0.004},{"t":2.31,"a":-0.002},{"t":2.32,"a":0.003},{"t":2.33,"a":-0.004},{"t":2.34,"a":0.005},{"t":2.35,"a":-0.004},{"t":2.36,"a":0.003},{"t":2.37,"a":-0.002},{"t":2.38,"a":0.004},{"t":2.39,"a":-0.003},
{"t":2.4,"a":0.002},{"t":2.41,"a":-0.003},{"t":2.42,"a":0.003},{"t":2.43,"a":-0.002},{"t":2.44,"a":0.004},{"t":2.45,"a":-0.003},{"t":2.46,"a":0.002},{"t":2.47,"a":-0.003},{"t":2.48,"a":0.003},{"t":2.49,"a":-0.002},
{"t":2.5,"a":0.004},{"t":2.51,"a":-0.005},{"t":2.52,"a":0.003},{"t":2.53,"a":-0.004},{"t":2.54,"a":0.002},{"t":2.55,"a":-0.003},{"t":2.56,"a":0.004},{"t":2.57,"a":-0.003},{"t":2.58,"a":0.005},{"t":2.59,"a":-0.006},
{"t":2.6,"a":0.006},{"t":2.61,"a":-0.005},{"t":2.62,"a":0.007},{"t":2.63,"a":-0.006},{"t":2.64,"a":0.004},{"t":2.65,"a":-0.005},{"t":2.66,"a":0.003},{"t":2.67,"a":-0.004},{"t":2.68,"a":0.005},{"t":2.69,"a":-0.004},
{"t":2.7,"a":0.003},{"t":2.71,"a":-0.004},{"t":2.72,"a":0.005},{"t":2.73,"a":-0.003},{"t":2.74,"a":0.006},{"t":2.75,"a":-0.007},{"t":2.76,"a":0.004},{"t":2.77,"a":-0.005},{"t":2.78,"a":0.006},{"t":2.79,"a":-0.004},
{"t":2.8,"a":0.005},{"t":2.81,"a":-0.004},{"t":2.82,"a":0.003},{"t":2.83,"a":-0.005},{"t":2.84,"a":0.004},{"t":2.85,"a":-0.003},{"t":2.86,"a":0.005},{"t":2.87,"a":-0.006},{"t":2.88,"a":0.004},{"t":2.89,"a":-0.005},
{"t":2.9,"a":0.005},{"t":2.91,"a":-0.007},{"t":2.92,"a":0.006},{"t":2.93,"a":-0.005},{"t":2.94,"a":0.007},{"t":2.95,"a":-0.006},{"t":2.96,"a":0.004},{"t":2.97,"a":-0.005},{"t":2.98,"a":0.003},{"t":2.99,"a":-0.004},
{"t":3,"a":0.002}],
"imf5":[
{"t":0,"a":0.006},{"t":0.025,"a":-0.003},{"t":0.05,"a":0.002},{"t":0.075,"a":-0.002},{"t":0.1,"a":0.001},{"t":0.125,"a":-0.002},{"t":0.15,"a":0.002},{"t":0.175,"a":-0.001},{"t":0.2,"a":0.002},{"t":0.225,"a":-0.002},{"t":0.25,"a":0.003},
{"t":0.275,"a":-0.002},{"t":0.3,"a":0.003},{"t":0.325,"a":-0.003},{"t":0.35,"a":0.004},{"t":0.375,"a":-0.003},{"t":0.4,"a":0.002},{"t":0.425,"a":-0.002},{"t":0.45,"a":0.001},{"t":0.475,"a":-0.001},{"t":0.5,"a":0.002},
{"t":0.525,"a":-0.001},{"t":0.55,"a":0.001},{"t":0.575,"a":-0.002},{"t":0.6,"a":0.002},{"t":0.625,"a":-0.001},{"t":0.65,"a":0.001},{"t":0.675,"a":-0.001},{"t":0.7,"a":0.002},{"t":0.725,"a":-0.002},{"t":0.75,"a":0.001},
{"t":0.775,"a":-0.002},{"t":0.8,"a":0.002},{"t":0.825,"a":-0.003},{"t":0.85,"a":0.005},{"t":0.875,"a":-0.006},{"t":0.9,"a":0.006},{"t":0.925,"a":-0.005},{"t":0.95,"a":0.004},{"t":0.975,"a":-0.003},{"t":1,"a":0.002},
{"t":1.025,"a":-0.003},{"t":1.05,"a":0.004},{"t":1.075,"a":-0.004},{"t":1.1,"a":0.003},{"t":1.125,"a":-0.002},{"t":1.15,"a":0.003},{"t":1.175,"a":-0.004},{"t":1.2,"a":0.004},{"t":1.225,"a":-0.003},{"t":1.25,"a":0.002},
{"t":1.275,"a":-0.002},{"t":1.3,"a":0.003},{"t":1.325,"a":-0.003},{"t":1.35,"a":0.002},{"t":1.375,"a":-0.002},{"t":1.4,"a":0.003},{"t":1.425,"a":-0.002},{"t":1.45,"a":0.001},{"t":1.475,"a":-0.002},{"t":1.5,"a":0.002},
{"t":1.525,"a":-0.001},{"t":1.55,"a":0.002},{"t":1.575,"a":-0.003},{"t":1.6,"a":0.003},{"t":1.625,"a":-0.005},{"t":1.65,"a":0.004},{"t":1.675,"a":-0.005},{"t":1.7,"a":0.004},{"t":1.725,"a":-0.003},{"t":1.75,"a":0.002},
{"t":1.775,"a":-0.002},{"t":1.8,"a":0.003},{"t":1.825,"a":-0.002},{"t":1.85,"a":0.002},{"t":1.875,"a":-0.003},{"t":1.9,"a":0.002},{"t":1.925,"a":-0.002},{"t":1.95,"a":0.003},{"t":1.975,"a":-0.004},{"t":2,"a":0.003},
{"t":2.025,"a":-0.003},{"t":2.05,"a":0.002},{"t":2.075,"a":-0.003},{"t":2.1,"a":0.004},{"t":2.125,"a":-0.003},{"t":2.15,"a":0.002},{"t":2.175,"a":-0.002},{"t":2.2,"a":0.002},{"t":2.225,"a":-0.001},{"t":2.25,"a":0.001},
{"t":2.275,"a":-0.002},{"t":2.3,"a":0.002},{"t":2.325,"a":-0.001},{"t":2.35,"a":0.002},{"t":2.375,"a":-0.003},{"t":2.4,"a":0.003},{"t":2.425,"a":-0.002},{"t":2.45,"a":0.002},{"t":2.475,"a":-0.001},{"t":2.5,"a":0.002},
{"t":2.525,"a":-0.002},{"t":2.55,"a":0.003},{"t":2.575,"a":-0.003},{"t":2.6,"a":0.004},{"t":2.625,"a":-0.005},{"t":2.65,"a":0.006},{"t":2.675,"a":-0.007},{"t":2.7,"a":0.008},{"t":2.725,"a":-0.008},{"t":2.75,"a":0.007},
{"t":2.775,"a":-0.008},{"t":2.8,"a":0.006},{"t":2.825,"a":-0.006},{"t":2.85,"a":0.004},{"t":2.875,"a":-0.003},{"t":2.9,"a":0.003},{"t":2.925,"a":-0.004},{"t":2.95,"a":0.002},{"t":2.975,"a":0.009},{"t":3,"a":-0.008}],
"imf6":[
{"t":0,"a":-0.0005},{"t":0.02,"a":0.003},{"t":0.05,"a":-0.002},{"t":0.08,"a":0.0025},{"t":0.11,"a":-0.002},{"t":0.14,"a":0.0025},{"t":0.17,"a":-0.002},{"t":0.2,"a":0.002},{"t":0.23,"a":-0.0025},{"t":0.26,"a":0.0015},{"t":0.29,"a":-0.0015},{"t":0.32,"a":0.0012},{"t":0.35,"a":-0.001},{"t":0.38,"a":0.0015},{"t":0.41,"a":0.0003},{"t":0.44,"a":0.001},{"t":0.48,"a":0.0003},{"t":0.52,"a":0.0012},{"t":0.56,"a":0.0002},
{"t":0.62,"a":0.003},{"t":0.67,"a":0},{"t":0.72,"a":-0.0035},{"t":0.79,"a":0.0035},{"t":0.83,"a":-0.0025},{"t":0.87,"a":0.003},{"t":0.91,"a":-0.003},{"t":0.95,"a":0.003},{"t":0.99,"a":-0.0025},{"t":1.03,"a":0.003},{"t":1.07,"a":-0.003},{"t":1.11,"a":0.0035},{"t":1.15,"a":-0.003},{"t":1.19,"a":0.003},{"t":1.23,"a":-0.0025},{"t":1.27,"a":0.003},{"t":1.31,"a":-0.003},{"t":1.35,"a":0.0025},{"t":1.39,"a":-0.0025},{"t":1.43,"a":0.003},{"t":1.47,"a":-0.003},{"t":1.51,"a":0.0025},{"t":1.55,"a":-0.002},{"t":1.59,"a":0.0025},{"t":1.63,"a":-0.0025},{"t":1.67,"a":0.003},{"t":1.71,"a":-0.0025},{"t":1.75,"a":0.0025},{"t":1.79,"a":-0.002},{"t":1.84,"a":0.002},{"t":1.89,"a":-0.002},{"t":1.95,"a":0.0035},{"t":2.01,"a":-0.002},{"t":2.04,"a":0.001},{"t":2.09,"a":-0.004},{"t":2.15,"a":0.0025},{"t":2.2,"a":-0.0015},{"t":2.25,"a":0.0025},{"t":2.3,"a":-0.001},{"t":2.34,"a":0.0015},{"t":2.38,"a":-0.0005},{"t":2.42,"a":0.002},{"t":2.46,"a":-0.0015},{"t":2.5,"a":0.0015},{"t":2.54,"a":-0.001},{"t":2.58,"a":0.004},{"t":2.64,"a":-0.005},{"t":2.7,"a":0.0045},{"t":2.76,"a":-0.0045},{"t":2.82,"a":0.001},{"t":2.85,"a":-0.001},{"t":2.89,"a":0.004},{"t":2.95,"a":-0.003},{"t":3,"a":-0.001}],
"imf7":[
{"t":0,"a":-0.006},{"t":0.015,"a":0},{"t":0.045,"a":0.005},{"t":0.08,"a":0.001},{"t":0.12,"a":-0.0028},{"t":0.2,"a":0.0013},{"t":0.26,"a":0},{"t":0.31,"a":0.001},{"t":0.35,"a":0},{"t":0.4,"a":0.0012},{"t":0.44,"a":-0.0003},{"t":0.49,"a":0.0018},{"t":0.55,"a":-0.0015},{"t":0.65,"a":0.0003},{"t":0.7,"a":0},{"t":0.78,"a":0.0018},{"t":0.88,"a":-0.0013},{"t":0.97,"a":0.0003},{"t":1.02,"a":0.0008},{"t":1.1,"a":-0.0002},{"t":1.18,"a":0.0005},{"t":1.27,"a":-0.0003},{"t":1.35,"a":0.0002},{"t":1.43,"a":-0.0003},{"t":1.5,"a":0.0007},{"t":1.58,"a":-0.0004},{"t":1.66,"a":0.0013},{"t":1.75,"a":-0.0008},{"t":1.86,"a":0.0018},{"t":1.99,"a":-0.0022},{"t":2.12,"a":0.0018},{"t":2.25,"a":-0.0022},{"t":2.37,"a":0.0017},{"t":2.49,"a":-0.0018},{"t":2.6,"a":0.0016},{"t":2.71,"a":-0.0021},{"t":2.9,"a":0.0016},{"t":2.96,"a":0.0015},{"t":3,"a":0.001}],
"imf8":[
{"t":0,"a":-4.6},{"t":0.03,"a":-0.5},{"t":0.07,"a":3.2},{"t":0.11,"a":3.9},{"t":0.32,"a":-3.1},{"t":0.53,"a":2.3},{"t":0.93,"a":-1.8},{"t":1.29,"a":2.2},{"t":1.52,"a":-1.5},{"t":1.76,"a":1.4},{"t":1.98,"a":-1.4},{"t":2.21,"a":1.6},{"t":2.44,"a":-2.3},{"t":2.75,"a":3.3},{"t":2.9,"a":1},{"t":2.96,"a":-2},{"t":3,"a":-4.8}]
},
"concat":[
{"width":213,"height":58,"layer":[
 {"data":{"name":"imf1"},"mark":{"type":"line","strokeWidth":1.2,"color":"black"},
  "encoding":{"x":{"field":"t","type":"quantitative","scale":{"domain":[0,3]},"axis":{"values":[0,1,2,3],"labelExpr":"format(datum.value,'')","title":"IMF1 (Time/s)"}},
   "y":{"field":"a","type":"quantitative","scale":{"domain":[-0.05,0.05]},"axis":{"values":[-0.05,0,0.05],"tickCount":5,"format":".2~f","labelExpr":"replace(datum.label, '\u2212', '-')","labelOverlap":false,"title":"Amplitude"}}}},
 {"data":{"values":[{}]},"mark":{"type":"text","text":"x 10"},"encoding":{"x":{"datum":2.507},"y":{"datum":-0.1155}}},
 {"data":{"values":[{}]},"mark":{"type":"text","text":"-7","fontSize":9},"encoding":{"x":{"datum":2.887},"y":{"datum":-0.102}}}
]},
{"width":213,"height":58,"layer":[
 {"data":{"name":"imf2"},"mark":{"type":"line","strokeWidth":1.2,"color":"black"},
  "encoding":{"x":{"field":"t","type":"quantitative","scale":{"domain":[0,3]},"axis":{"values":[0,1,2,3],"labelExpr":"format(datum.value,'')","title":"IMF2(Time/s)"}},
   "y":{"field":"a","type":"quantitative","scale":{"domain":[-0.05,0.05]},"axis":{"values":[-0.05,0,0.05],"tickCount":5,"format":".2~f","labelExpr":"replace(datum.label, '\u2212', '-')","labelOverlap":false,"title":"Amplitude"}}}},
 {"data":{"values":[{}]},"mark":{"type":"text","text":"x 10"},"encoding":{"x":{"datum":2.507},"y":{"datum":-0.1155}}},
 {"data":{"values":[{}]},"mark":{"type":"text","text":"-7","fontSize":9},"encoding":{"x":{"datum":2.887},"y":{"datum":-0.102}}}
]},
{"width":213,"height":58,"layer":[
 {"data":{"name":"imf3"},"mark":{"type":"line","strokeWidth":1.1,"color":"black"},
  "encoding":{"x":{"field":"t","type":"quantitative","scale":{"domain":[0,3]},"axis":{"values":[0,1,2,3],"labelExpr":"format(datum.value,'')","title":"IMF3(Time/s)"}},
   "y":{"field":"a","type":"quantitative","scale":{"domain":[-0.05,0.05]},"axis":{"values":[-0.05,0,0.05],"tickCount":5,"format":".2~f","labelExpr":"replace(datum.label, '\u2212', '-')","labelOverlap":false,"title":"Amplitude"}}}},
 {"data":{"values":[{}]},"mark":{"type":"text","text":"x 10"},"encoding":{"x":{"datum":2.507},"y":{"datum":-0.1155}}},
 {"data":{"values":[{}]},"mark":{"type":"text","text":"-7","fontSize":9},"encoding":{"x":{"datum":2.887},"y":{"datum":-0.102}}}
]},
{"width":213,"height":58,"layer":[
 {"data":{"name":"imf4"},"mark":{"type":"line","strokeWidth":1.1,"color":"black"},
  "encoding":{"x":{"field":"t","type":"quantitative","scale":{"domain":[0,3]},"axis":{"values":[0,1,2,3],"labelExpr":"format(datum.value,'')","title":"IMF4(Time/s)"}},
   "y":{"field":"a","type":"quantitative","scale":{"domain":[-0.02,0.02]},"axis":{"values":[-0.02,0,0.02],"tickCount":5,"format":".2~f","labelExpr":"replace(datum.label, '\u2212', '-')","labelOverlap":false,"title":"Amplitude"}}}},
 {"data":{"values":[{}]},"mark":{"type":"text","text":"x 10"},"encoding":{"x":{"datum":2.507},"y":{"datum":-0.0462}}},
 {"data":{"values":[{}]},"mark":{"type":"text","text":"-7","fontSize":9},"encoding":{"x":{"datum":2.887},"y":{"datum":-0.0408}}}
]},
{"width":213,"height":58,"layer":[
 {"data":{"name":"imf5"},"mark":{"type":"line","strokeWidth":1.3,"color":"black","interpolate":"monotone"},
  "encoding":{"x":{"field":"t","type":"quantitative","scale":{"domain":[0,3]},"axis":{"values":[0,1,2,3],"labelExpr":"format(datum.value,'')","title":"IMF5(Time/s)"}},
   "y":{"field":"a","type":"quantitative","scale":{"domain":[-0.02,0.02]},"axis":{"values":[-0.02,0,0.02],"tickCount":5,"format":".2~f","labelExpr":"replace(datum.label, '\u2212', '-')","labelOverlap":false,"title":"Amplitude"}}}},
 {"data":{"values":[{}]},"mark":{"type":"text","text":"x 10"},"encoding":{"x":{"datum":2.507},"y":{"datum":-0.0462}}},
 {"data":{"values":[{}]},"mark":{"type":"text","text":"-7","fontSize":9},"encoding":{"x":{"datum":2.887},"y":{"datum":-0.0408}}}
]},
{"width":213,"height":58,"layer":[
 {"data":{"name":"imf6"},"mark":{"type":"line","strokeWidth":1.7,"color":"#222222","interpolate":"monotone"},
  "encoding":{"x":{"field":"t","type":"quantitative","scale":{"domain":[0,3]},"axis":{"values":[0,1,2,3],"labelExpr":"format(datum.value,'')","title":"IMF6(Time/s)"}},
   "y":{"field":"a","type":"quantitative","scale":{"domain":[-0.01,0.01]},"axis":{"values":[-0.01,0,0.01],"tickCount":5,"format":".2~f","labelExpr":"replace(datum.label, '\u2212', '-')","labelOverlap":false,"title":"Amplitude"}}}},
 {"data":{"values":[{}]},"mark":{"type":"text","text":"x 10"},"encoding":{"x":{"datum":2.507},"y":{"datum":-0.0231}}},
 {"data":{"values":[{}]},"mark":{"type":"text","text":"-7","fontSize":9},"encoding":{"x":{"datum":2.887},"y":{"datum":-0.0204}}}
]},
{"width":213,"height":58,"layer":[
 {"data":{"name":"imf7"},"mark":{"type":"line","strokeWidth":1.7,"color":"#222222","interpolate":"monotone"},
  "encoding":{"x":{"field":"t","type":"quantitative","scale":{"domain":[0,3]},"axis":{"values":[0,1,2,3],"labelExpr":"format(datum.value,'')","title":"IMF7(Time/s)"}},
   "y":{"field":"a","type":"quantitative","scale":{"domain":[-0.01,0.01]},"axis":{"values":[-0.01,0,0.01],"tickCount":5,"format":".2~f","labelExpr":"replace(datum.label, '\u2212', '-')","labelOverlap":false,"title":"Amplitude"}}}},
 {"data":{"values":[{}]},"mark":{"type":"text","text":"x 10"},"encoding":{"x":{"datum":2.507},"y":{"datum":-0.0231}}},
 {"data":{"values":[{}]},"mark":{"type":"text","text":"-7","fontSize":9},"encoding":{"x":{"datum":2.887},"y":{"datum":-0.0204}}}
]},
{"width":213,"height":58,"layer":[
 {"data":{"name":"imf8"},"mark":{"type":"line","strokeWidth":1.7,"color":"#222222","interpolate":"monotone"},
  "encoding":{"x":{"field":"t","type":"quantitative","scale":{"domain":[0,3]},"axis":{"values":[0,1,2,3],"labelExpr":"format(datum.value,'')","title":"IMF8(Time/s)"}},
   "y":{"field":"a","type":"quantitative","scale":{"domain":[-5,5]},"axis":{"values":[-5,0,5],"tickCount":5,"format":".2~f","labelExpr":"replace(datum.label, '\u2212', '-')","labelOverlap":false,"title":"Amplitude"}}}},
 {"data":{"values":[{}]},"mark":{"type":"text","text":"x 10"},"encoding":{"x":{"datum":2.507},"y":{"datum":-11.55}}},
 {"data":{"values":[{}]},"mark":{"type":"text","text":"-7","fontSize":9},"encoding":{"x":{"datum":2.887},"y":{"datum":-10.2}}},
 {"data":{"values":[{}]},"mark":{"type":"text","text":"x 10"},"encoding":{"x":{"datum":0.03},"y":{"datum":5.17}}},
 {"data":{"values":[{}]},"mark":{"type":"text","text":"-3","fontSize":9},"encoding":{"x":{"datum":0.38},"y":{"datum":6.38}}}
]}
],
"config":{
 "view":{"stroke":"black","strokeWidth":1},
 "axis":{"domain":false,"grid":false,"tickSize":-3,"tickColor":"black","tickWidth":1,"labelOverlap":false,
  "labelFont":"Liberation Serif","labelFontWeight":"bold","labelFontSize":13,"labelColor":"black",
  "titleFont":"Liberation Sans","titleFontWeight":"bold","titleColor":"black"},
 "axisX":{"labelPadding":9,"titlePadding":2,"labelFlush":false,"titleFontSize":16.5,"tickCount":8},
 "axisY":{"labelPadding":13,"titlePadding":5,"titleFontSize":15.5,"tickCount":5},
 "text":{"font":"Liberation Serif","fontWeight":"bold","fontSize":14,"align":"left","baseline":"alphabetic","color":"black"}
}
}
